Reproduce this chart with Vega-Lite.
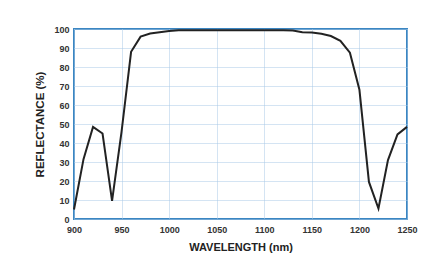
{
  "$schema": "https://vega.github.io/schema/vega-lite/v6.json",
  "width": 333,
  "height": 190,
  "autosize": {"type": "none"},
  "padding": {"left": 74, "top": 29, "right": 35, "bottom": 55},
  "background": "white",
  "config": {
    "view": {"stroke": "#3b86c2", "strokeWidth": 2},
    "font": "Liberation Sans"
  },
  "data": {
    "values": [
      {"wl": 900, "r": 5},
      {"wl": 910, "r": 31.5},
      {"wl": 920, "r": 48.5},
      {"wl": 930, "r": 45},
      {"wl": 940, "r": 9.5},
      {"wl": 950, "r": 46},
      {"wl": 960, "r": 88},
      {"wl": 970, "r": 96},
      {"wl": 980, "r": 97.6},
      {"wl": 990, "r": 98.3},
      {"wl": 1000, "r": 99},
      {"wl": 1010, "r": 99.3},
      {"wl": 1020, "r": 99.4},
      {"wl": 1030, "r": 99.4},
      {"wl": 1040, "r": 99.4},
      {"wl": 1050, "r": 99.4},
      {"wl": 1060, "r": 99.4},
      {"wl": 1070, "r": 99.4},
      {"wl": 1080, "r": 99.4},
      {"wl": 1090, "r": 99.4},
      {"wl": 1100, "r": 99.4},
      {"wl": 1110, "r": 99.4},
      {"wl": 1120, "r": 99.4},
      {"wl": 1130, "r": 99.2},
      {"wl": 1140, "r": 98.3},
      {"wl": 1150, "r": 98.2},
      {"wl": 1160, "r": 97.5},
      {"wl": 1170, "r": 96.3},
      {"wl": 1180, "r": 93.8},
      {"wl": 1190, "r": 87.5},
      {"wl": 1200, "r": 68},
      {"wl": 1210, "r": 19.5},
      {"wl": 1220, "r": 5.5},
      {"wl": 1230, "r": 31},
      {"wl": 1240, "r": 44.5},
      {"wl": 1250, "r": 48.5}
    ]
  },
  "mark": {"type": "line", "color": "#222222", "strokeWidth": 2, "clip": false},
  "encoding": {
    "x": {
      "field": "wl",
      "type": "quantitative",
      "scale": {"domain": [900, 1250], "nice": false, "zero": false},
      "axis": {
        "title": "WAVELENGTH (nm)",
        "format": "d",
        "values": [900, 950, 1000, 1050, 1100, 1150, 1200, 1250],
        "grid": true,
        "gridColor": "#a9c8e6",
        "gridDash": [1, 1],
        "gridWidth": 1,
        "ticks": false,
        "domain": false,
        "labelFont": "Liberation Sans",
        "labelFontWeight": "bold",
        "labelFontSize": 9,
        "labelColor": "#333333",
        "labelPadding": 6,
        "labelFlush": false,
        "titleFont": "Liberation Sans",
        "titleFontWeight": "bold",
        "titleFontSize": 11,
        "titleColor": "#222222",
        "titlePadding": 7
      }
    },
    "y": {
      "field": "r",
      "type": "quantitative",
      "scale": {"domain": [0, 100], "nice": false},
      "axis": {
        "title": "REFLECTANCE (%)",
        "format": "d",
        "values": [0, 10, 20, 30, 40, 50, 60, 70, 80, 90, 100],
        "grid": true,
        "gridColor": "#a9c8e6",
        "gridDash": [1, 1],
        "gridWidth": 1,
        "ticks": false,
        "domain": false,
        "labelFont": "Liberation Sans",
        "labelFontWeight": "bold",
        "labelFontSize": 9,
        "labelColor": "#333333",
        "labelPadding": 5,
        "labelFlush": false,
        "titleFont": "Liberation Sans",
        "titleFontWeight": "bold",
        "titleFontSize": 11.5,
        "titleColor": "#222222",
        "titlePadding": 8
      }
    }
  }
}
